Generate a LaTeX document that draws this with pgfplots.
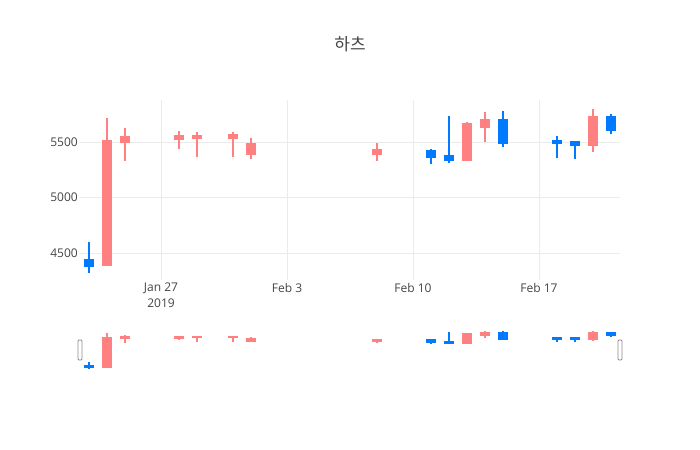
\documentclass[border=0pt]{standalone}
\usepackage{pgfplots}
\pgfplotsset{compat=1.18}
\usepackage{pgfplotstable}
\usepackage{fontspec}
\setmainfont{Open Sans}
\newfontfamily\kr{Noto Sans CJK KR}

\definecolor{txt}{RGB}{68,68,68}
\definecolor{gridc}{RGB}{235,235,235}
\definecolor{up}{RGB}{255,128,128}
\definecolor{down}{RGB}{0,123,255}

% day: Jan = day of month, Feb = 31 + day
\pgfplotstableread{
d  o    h    l    c
24 4390 5715 4390 5510
25 5503 5626 5332 5545
28 5530 5600 5440 5560
29 5540 5590 5370 5560
31 5540 5590 5370 5565
32 5395 5538 5350 5485
39 5395 5496 5332 5428
44 5340 5680 5332 5660
45 5640 5776 5500 5700
51 5475 5800 5410 5730
}\inc

\pgfplotstableread{
d  o    h    l    c
23 4440 4596 4325 4388
42 5424 5437 5302 5365
43 5377 5740 5314 5340
46 5698 5779 5455 5491
49 5514 5557 5361 5491
50 5505 5505 5350 5476
52 5728 5755 5572 5614
}\dec

% a vertical stroke drawn as an error bar going up from y
\pgfplotsset{
  stroke/.style 2 args={draw=none, mark=none, forget plot,
    error bars/.cd, y dir=plus, y explicit, error mark=none,
    error bar style={draw=#1, line width=#2}},
}

\begin{document}
\begin{tikzpicture}
\path[use as bounding box] (0,0) rectangle (700bp,450bp);

\node[anchor=base, text=txt, font=\kr\fontsize{17bp}{20bp}\selectfont] at (350bp,399bp) {하츠};

% bodies are padded by pad (one pixel of outline, in data units) at each end
\begin{axis}[
  at={(80bp,170bp)}, anchor=south west,
  scale only axis, width=540bp, height=180bp,
  xmin=22.5, xmax=52.5,
  ymin=4258, ymax=5880,
  axis line style={draw=none},
  major tick length=0pt,
  xtick={27,34,41,48},
  xticklabels={{Jan 27\\2019},Feb 3,Feb 10,Feb 17},
  ytick={4500,5000,5500},
  xmajorgrids, ymajorgrids,
  grid style={gridc, line width=1bp},
  /pgf/number format/assume math mode=true,
  /pgf/number format/set thousands separator={},
  tick label style={text=txt, font=\fontsize{12bp}{16bp}\selectfont},
  xticklabel style={anchor=north, align=center, inner sep=0pt, yshift=-3bp},
  yticklabel style={anchor=east, inner sep=0pt, xshift=-2bp},
  clip=false,
]
\def\pad{9}
\addplot[stroke={up}{2bp}] table[x=d, y=l, y error expr=\thisrow{h}-\thisrow{l}] {\inc};
\addplot[stroke={down}{2bp}] table[x=d, y=l, y error expr=\thisrow{h}-\thisrow{l}] {\dec};
\addplot[stroke={up}{10.5bp}] table[x=d, y expr=\thisrow{o}-\pad, y error expr=\thisrow{c}-\thisrow{o}+2*\pad] {\inc};
\addplot[stroke={down}{10.5bp}] table[x=d, y expr=\thisrow{c}-\pad, y error expr=\thisrow{o}-\thisrow{c}+2*\pad] {\dec};
\end{axis}

% range slider
\begin{axis}[
  at={(80bp,79.4bp)}, anchor=south west,
  scale only axis, width=540bp, height=42bp,
  xmin=22.5, xmax=52.5,
  ymin=4258, ymax=5880,
  hide axis,
]
\def\pad{36}
\addplot[stroke={up}{1.3bp}] table[x=d, y=l, y error expr=\thisrow{h}-\thisrow{l}] {\inc};
\addplot[stroke={down}{1.3bp}] table[x=d, y=l, y error expr=\thisrow{h}-\thisrow{l}] {\dec};
\addplot[stroke={up}{10.5bp}] table[x=d, y expr=\thisrow{o}-\pad, y error expr=\thisrow{c}-\thisrow{o}+2*\pad] {\inc};
\addplot[stroke={down}{10.5bp}] table[x=d, y expr=\thisrow{c}-\pad, y error expr=\thisrow{o}-\thisrow{c}+2*\pad] {\dec};
\end{axis}

% slider handles
\draw[black!45, fill=white, line width=0.8bp, rounded corners=1bp] (78bp,90bp) rectangle (82bp,110bp);
\draw[black!45, fill=white, line width=0.8bp, rounded corners=1bp] (618bp,90bp) rectangle (622bp,110bp);
\end{tikzpicture}
\end{document}
